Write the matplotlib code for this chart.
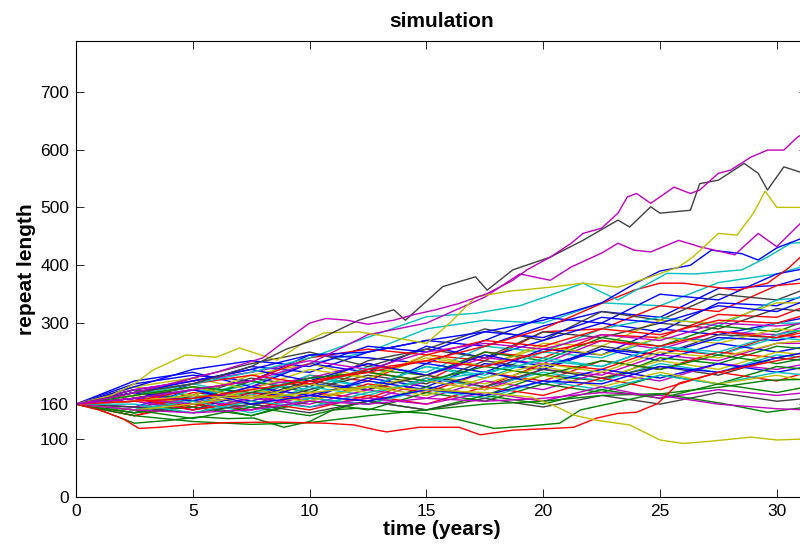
import matplotlib
matplotlib.use("Agg")
import matplotlib.pyplot as plt

plt.rcParams['font.family'] = ['Liberation Sans', 'DejaVu Sans']

# MATLAB-style colour order
B, G, R, C, M, Y, K = '#0000ff', '#008000', '#ff0000', '#00bfbf', '#bf00bf', '#bfbf00', '#404040'

# common time grid for the bundle of paths (years)
T = [0, 2.5, 5, 7.5, 10, 12.5, 15, 17.5, 20, 22.5, 25, 27.5, 30, 31.3]

bundle_vals = [
    [160, 180, 170, 195, 230, 250, 290, 305, 300, 335, 330, 370, 385, 400],
    [160, 195, 210, 200, 245, 240, 230, 270, 310, 300, 350, 340, 385, 395],
    [160, 165, 195, 225, 215, 250, 270, 260, 295, 320, 310, 360, 365, 380],
    [160, 150, 180, 170, 210, 200, 245, 235, 285, 290, 330, 320, 365, 370],
    [160, 185, 175, 205, 190, 235, 255, 290, 270, 320, 305, 350, 340, 360],
    [160, 200, 215, 190, 230, 215, 260, 240, 270, 300, 285, 335, 330, 350],
    [160, 145, 170, 200, 185, 225, 215, 260, 250, 290, 310, 295, 340, 345],
    [160, 190, 175, 210, 230, 205, 245, 225, 265, 260, 305, 300, 335, 335],
    [160, 140, 165, 155, 200, 215, 200, 250, 240, 280, 275, 315, 310, 330],
    [160, 175, 205, 230, 250, 225, 255, 240, 285, 275, 300, 290, 325, 320],
    [160, 155, 185, 165, 195, 185, 230, 215, 255, 245, 290, 280, 300, 310],
    [160, 185, 165, 200, 180, 220, 210, 250, 235, 275, 260, 295, 285, 305],
    [160, 150, 185, 175, 210, 190, 225, 210, 250, 240, 275, 270, 300, 300],
    [160, 180, 160, 190, 205, 230, 210, 240, 230, 270, 255, 285, 280, 295],
    [160, 145, 175, 160, 185, 210, 195, 235, 220, 260, 245, 280, 275, 290],
    [160, 190, 205, 185, 220, 205, 240, 225, 260, 245, 275, 265, 290, 285],
    [160, 170, 150, 180, 170, 205, 190, 230, 220, 255, 245, 275, 270, 280],
    [160, 140, 160, 150, 180, 170, 205, 190, 230, 220, 255, 245, 280, 275],
    [160, 175, 195, 175, 205, 190, 225, 205, 240, 225, 260, 245, 275, 270],
    [160, 155, 170, 150, 175, 165, 200, 185, 220, 210, 245, 235, 265, 265],
    [160, 185, 200, 220, 200, 230, 210, 245, 225, 255, 235, 265, 250, 260],
    [160, 145, 160, 140, 170, 160, 190, 175, 210, 200, 240, 230, 260, 255],
    [160, 170, 155, 180, 165, 195, 180, 215, 200, 235, 220, 250, 240, 250],
    [160, 175, 160, 185, 170, 190, 210, 195, 225, 205, 235, 220, 250, 245],
    [160, 150, 170, 155, 190, 175, 205, 190, 215, 200, 230, 215, 245, 240],
    [160, 170, 190, 170, 200, 185, 210, 190, 220, 205, 225, 210, 240, 235],
    [160, 165, 150, 170, 160, 185, 170, 200, 185, 215, 200, 230, 220, 230],
    [160, 180, 165, 190, 175, 200, 185, 215, 195, 220, 205, 230, 215, 225],
    [160, 145, 155, 140, 165, 150, 180, 165, 195, 180, 210, 195, 225, 220],
    [160, 170, 150, 165, 150, 175, 160, 190, 175, 205, 185, 215, 200, 215],
    [160, 150, 165, 145, 170, 160, 185, 170, 200, 185, 210, 195, 215, 210],
    [160, 175, 190, 170, 195, 180, 200, 185, 210, 190, 215, 195, 210, 200],
    [160, 150, 135, 155, 140, 165, 150, 175, 160, 185, 170, 195, 180, 190],
    [160, 170, 160, 175, 155, 170, 160, 180, 165, 190, 170, 185, 175, 180],
    [160, 155, 145, 160, 145, 165, 150, 170, 155, 175, 160, 180, 165, 170],
    [160, 190, 220, 235, 225, 260, 250, 285, 275, 310, 300, 330, 320, 340],
    [160, 165, 185, 200, 240, 255, 245, 270, 260, 290, 280, 305, 300, 315],
    [160, 175, 190, 180, 205, 215, 200, 225, 210, 235, 220, 245, 230, 240],
    [160, 160, 145, 165, 155, 180, 200, 215, 235, 225, 260, 250, 280, 290],
    [160, 185, 200, 215, 235, 220, 250, 265, 255, 280, 270, 300, 295, 300],
    [160, 150, 160, 175, 165, 190, 175, 205, 230, 215, 250, 240, 265, 270],
    [160, 170, 185, 160, 175, 165, 185, 175, 200, 195, 225, 215, 240, 250],
    [160, 180, 195, 210, 195, 220, 235, 225, 250, 270, 260, 285, 275, 285],
]
bundle_colors = [C, B, B, R, K, B, C, Y, R, K, B, G, C, M, K, Y, B, R,
                 C, M, B, G, R, Y, C, K, M, B, G, R, C, Y, G, M, K,
                 B, R, G, C, M, Y, B, R]

# individually traced paths
mag_top_t = [0, 2, 4, 6, 8, 9, 10, 10.7, 11.6, 12.5, 13.6, 14.5, 15.4, 16.4, 17.6, 18.7,
             19.3, 20.3, 21.2, 21.7, 22.5, 23.2, 23.6, 24, 24.6, 25, 25.6, 26.3, 26.7,
             27.5, 28, 28.9, 29.6, 30.3, 30.9, 31.3]
mag_top_v = [160, 175, 195, 215, 240, 271, 300, 308, 305, 298, 305, 315, 323, 334, 351, 374,
             392, 414, 438, 455, 464, 490, 518, 524, 507, 518, 535, 524, 530,
             559, 564, 587, 599, 599, 622, 630]

blk_top_t = [0, 2.5, 5, 7.5, 9, 10.6, 12.1, 13.6, 14.1, 15.7, 17.1, 17.6, 18.7, 20.3, 21.7,
             23.2, 23.7, 24.6, 25, 26.3, 26.7, 27.5, 28.6, 29.2, 29.6, 30.3, 31, 31.3]
blk_top_v = [160, 180, 195, 225, 255, 276, 305, 323, 305, 363, 380, 357, 392, 414, 443,
             478, 466, 501, 490, 495, 541, 547, 576, 559, 530, 570, 561, 565]

yel_top_t = [0, 1.5, 2.5, 3.3, 4.7, 6, 7, 8.6, 9.7, 10.6, 12.1, 13.6, 15, 16, 17.1, 18.5,
             20.3, 21.7, 23.2, 24.6, 25.8, 26.4, 27.5, 28.3, 29, 29.5, 30, 31.3]
yel_top_v = [160, 175, 195, 219, 245, 241, 257, 236, 265, 283, 285, 275, 265, 300, 345, 355,
             362, 369, 362, 380, 397, 414, 455, 452, 490, 528, 500, 500]

mag_2_t = [0, 2.5, 5, 7.5, 10, 12.5, 15, 17.5, 19, 20.3, 21.2, 22.5, 23.2, 23.9, 24.6,
           25.8, 26.7, 28.2, 29.2, 30, 31, 31.3]
mag_2_v = [160, 170, 185, 200, 230, 280, 300, 345, 385, 374, 397, 421, 438, 426, 423,
           443, 432, 418, 455, 432, 472, 470]

blu_top_t = [0, 2.5, 5, 7.5, 10, 12.5, 15, 17.5, 20, 22.5, 24, 25, 26.3, 27.2, 28.5,
             29.2, 30, 31.3]
blu_top_v = [160, 180, 200, 220, 245, 250, 270, 285, 305, 335, 370, 390, 400, 426, 420,
             409, 430, 450]

cyn_top_t = [0, 2.5, 5, 7.5, 10, 12.1, 15, 17.1, 19, 20.5, 21.7, 23.2, 25.3, 26.5, 28.5,
             29.6, 30.6, 31.3]
cyn_top_v = [160, 180, 195, 215, 240, 270, 311, 317, 330, 351, 369, 340, 386, 385, 392,
             414, 438, 440]

red_top_t = [0, 2.5, 5, 7.5, 10, 12.5, 15, 17.5, 20, 22.5, 23.9, 25, 26, 28.3, 29.6,
             30.5, 31.3]
red_top_v = [160, 165, 170, 185, 200, 215, 235, 260, 290, 334, 357, 369, 369, 357, 369,
             395, 425]

red_low_t = [0, 1, 2, 2.7, 3.6, 5, 6.5, 8.6, 10.7, 11.9, 12.9, 13.3, 14.7, 16.4, 17.3,
             18.7, 20.4, 21.3, 22.3, 23.2, 24, 24.9, 25.8, 27.5, 30, 31.3]
red_low_v = [160, 150, 135, 118, 120, 125, 128, 129, 127, 124, 115, 112, 120, 120, 107,
             115, 118, 120, 136, 144, 146, 161, 196, 215, 235, 245]

yel_low_t = [0, 2.5, 5, 7.5, 10, 12.5, 15, 17.5, 19.5, 20.6, 21.3, 22.3, 23.7, 25, 26,
             27.2, 28.9, 30, 31.3]
yel_low_v = [160, 165, 175, 170, 180, 190, 185, 180, 172, 155, 141, 132, 124, 98, 92,
             96, 103, 98, 100]

grn_low1_t = [0, 1, 2.5, 4, 5.3, 6.5, 7.6, 8.9, 10, 11, 12.1, 13.5, 15, 16.4, 17.9, 19.3,
              20.7, 21.6, 23.2, 24.5, 26.3, 27.7, 29.6, 31.3]
grn_low1_v = [160, 150, 127, 132, 138, 135, 136, 120, 130, 150, 153, 148, 144, 133, 118, 122,
              127, 150, 164, 175, 184, 190, 201, 203]

grn_low2_t = [0, 2.5, 5, 7.5, 10, 12.5, 15, 17.5, 20, 22.5, 25, 26.3, 27.7, 29.6, 31.3]
grn_low2_v = [160, 140, 130, 125, 128, 140, 150, 160, 165, 175, 178, 170, 161, 146, 155]

mag_low_t = T
mag_low_v = [160, 150, 145, 150, 165, 160, 170, 165, 170, 180, 175, 160, 152, 150]

traced = [
    (grn_low2_t, grn_low2_v, G), (mag_low_t, mag_low_v, M), (grn_low1_t, grn_low1_v, G),
    (red_low_t, red_low_v, R), (yel_low_t, yel_low_v, Y), (red_top_t, red_top_v, R),
    (cyn_top_t, cyn_top_v, C), (blu_top_t, blu_top_v, B), (mag_2_t, mag_2_v, M),
    (yel_top_t, yel_top_v, Y), (blk_top_t, blk_top_v, K), (mag_top_t, mag_top_v, M),
]

y_ticks = [0, 100, 160, 300, 400, 500, 600, 700]
x_ticks = [0, 5, 10, 15, 20, 25, 30]

fig = plt.figure(figsize=(8, 5.45), dpi=100)
# axes run slightly past the right edge of the picture (cropped original)
ax = fig.add_axes([0.095, 0.0886, 0.914, 0.8367])

for vals, col in zip(bundle_vals, bundle_colors):
    ax.plot(T, vals, color=col, lw=1.0)
for tt, vv, col in traced:
    ax.plot(tt, vv, color=col, lw=1.0)

ax.set_xlim(0, 31.3)
ax.set_ylim(0, 788)
ax.set_xticks(x_ticks)
ax.set_yticks(y_ticks)
ax.tick_params(direction='in', length=5.5, width=0.6, labelsize=12.5,
               top=True, right=True, pad=5)
for s in ax.spines.values():
    s.set_linewidth(0.8)

ax.set_title('simulation', fontsize=15, fontweight='bold', pad=10)
ax.set_xlabel('time (years)', fontsize=15, fontweight='bold', labelpad=1)
ax.set_ylabel('repeat length', fontsize=15, fontweight='bold', labelpad=3)

fig.savefig('out.png', dpi=100)
